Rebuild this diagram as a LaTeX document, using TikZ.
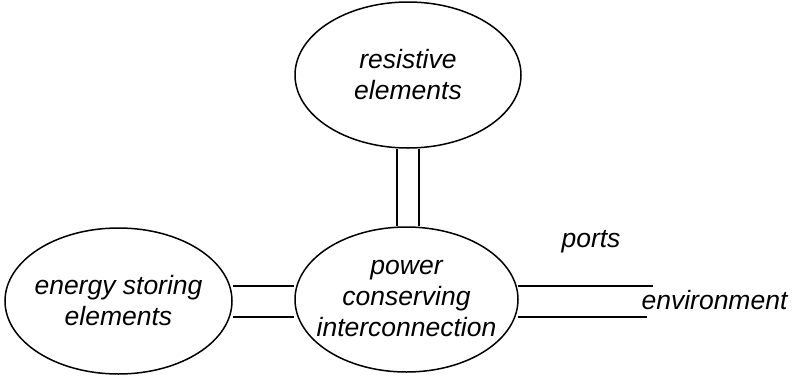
\documentclass[tikz,border=0pt]{standalone}
\usepackage{fontspec}
\setmainfont{Liberation Sans}
\usetikzlibrary{shapes.geometric,calc}
\begin{document}
\begin{tikzpicture}[x=1pt,y=-1pt,
  blob/.style={draw,ellipse,line width=1.5pt,inner sep=0pt},
  txt/.style={inner sep=0pt,align=center,font=\fontsize{26.5}{31}\selectfont\itshape},
  lbl/.style={inner sep=0pt,anchor=base,font=\fontsize{26.5}{31}\selectfont\itshape},
  wire/.style={line width=1.5pt}]
\useasboundingbox (0,0) rectangle (797,378);
% ellipses
\node[blob,minimum width=226,minimum height=146] (res) at (408,75) {};
\node[blob,minimum width=223,minimum height=145] (mid) at (406.5,299.5) {};
\node[blob,minimum width=227,minimum height=146] (store) at (118.5,301) {};
% texts
\node[txt] (restext) at (res) {resistive\\elements};
\node[txt] (midtext) at ($(mid)+(0,-1.5)$) {power\\conserving\\interconnection};
\node[txt] (storetext) at (store) {energy storing\\elements};
% vertical double line
\coordinate (v1) at ($(res.south)+(-11,0)$);
\coordinate (v2) at ($(res.south)+(11,0)$);
\draw[wire] (v1) -- (v1 |- mid.north);
\draw[wire] (v2) -- (v2 |- mid.north);
% left double line
\coordinate (h1) at ($(store.east)+(0,-15)$);
\coordinate (h2) at ($(store.east)+(0,16)$);
\draw[wire] (h1) -- (h1 -| mid.west);
\draw[wire] (h2) -- (h2 -| mid.west);
% right double line
\coordinate (r1) at ($(mid.east)+(-1,-13.5)$);
\coordinate (r2) at ($(mid.east)+(-1,17.5)$);
\coordinate (e1) at (653,286);
\coordinate (e2) at (647,317);
\draw[wire] (r1) -- (e1);
\draw[wire] (r2) -- (e2);
% labels
\node[lbl] (ports) at (591,247) {ports};
\node[lbl] (env) at (714.5,309) {environment};
\end{tikzpicture}
\end{document}
